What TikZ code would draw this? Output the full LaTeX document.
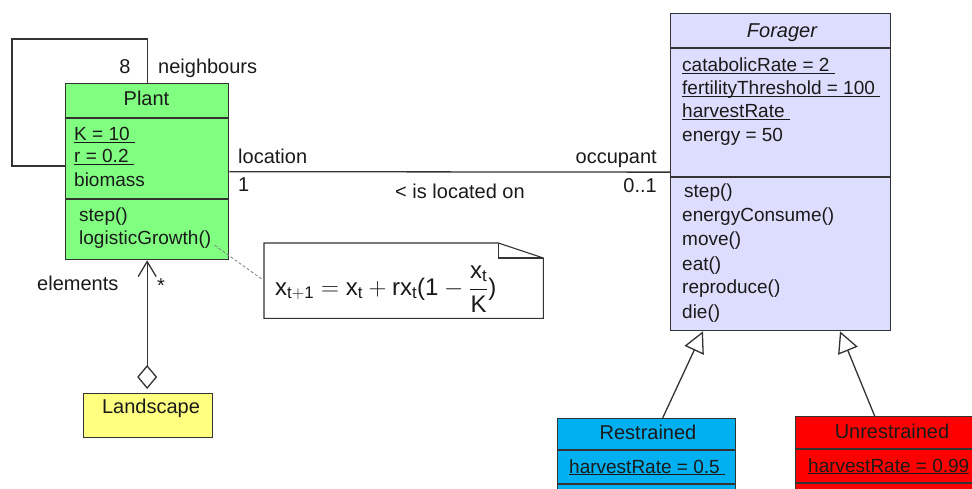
\documentclass[tikz,border=0pt]{standalone}
\usepackage{fontspec}
\setmainfont{Liberation Sans}
\usetikzlibrary{arrows.meta,calc}
\definecolor{plantgreen}{HTML}{80FF80}
\definecolor{foragerblue}{HTML}{DDDDFF}
\definecolor{restrainedblue}{HTML}{00B0F0}
\definecolor{unred}{HTML}{FF0000}
\definecolor{landyellow}{HTML}{FFFF80}
\definecolor{ink}{HTML}{1A1A1A}
\definecolor{edgec}{HTML}{333333}
\newcommand\ulattr[1]{\underline{\smash{#1}}}
\begin{document}
\begin{tikzpicture}[x=1pt,y=-1pt,
  font=\fontsize{20}{24}\selectfont, text=ink,
  classbox/.style={draw=edgec, line width=1.3pt, anchor=north west, inner sep=0pt, rectangle},
  sepline/.style={draw=edgec, line width=1.3pt},
  txt/.style={anchor=base west, inner sep=0pt},
  mem/.style={anchor=base west, inner sep=0pt, font=\fontsize{19}{23}\selectfont},
  ctxt/.style={anchor=base, inner sep=0pt},
  conn/.style={draw=edgec, line width=1.3pt},
]
\useasboundingbox (0,0) rectangle (972,489);
\clip (0,0) rectangle (972,489);

% ---------- Plant ----------
\node[classbox, fill=plantgreen, minimum width=163pt, minimum height=176pt] (plant) at (65,83) {};
\draw[sepline] (plant.west |- 0,118) -- (plant.east |- 0,118);
\draw[sepline] (plant.west |- 0,199) -- (plant.east |- 0,199);
\node[ctxt] (plantT) at (146.5,106) {Plant};
\node[mem] (plantA1) at (74,141) {\ulattr{K = 10~}};
\node[mem] (plantA2) at (74,163) {\ulattr{r = 0.2~}};
\node[mem] (plantA3) at (74,187) {biomass};
\node[mem] (plantM1) at (79,222) {step()};
\node[mem] (lg) at (79,245) {logisticGrowth()};

% ---------- Forager ----------
\node[classbox, fill=foragerblue, minimum width=220pt, minimum height=317pt] (forager) at (670,13) {};
\draw[sepline] (forager.west |- 0,48) -- (forager.east |- 0,48);
\draw[sepline] (forager.west |- 0,177) -- (forager.east |- 0,177);
\node[ctxt] (foragerT) at (782,38) {\itshape Forager};
\node[mem] (fA1) at (682,72) {\ulattr{catabolicRate = 2~}};
\node[mem] (fA2) at (682,95) {\ulattr{fertilityThreshold = 100~}};
\node[mem] (fA3) at (682,118) {\ulattr{harvestRate~}};
\node[mem] (fA4) at (682,142) {energy = 50};
\node[mem] (fM1) at (684,198) {step()};
\node[mem] (fM2) at (682,222) {energyConsume()};
\node[mem] (fM3) at (682,246) {move()};
\node[mem] (fM4) at (682,270) {eat()};
\node[mem] (fM5) at (682,294) {reproduce()};
\node[mem] (fM6) at (682,318) {die()};

% ---------- Restrained ----------
\node[classbox, fill=restrainedblue, minimum width=178pt, minimum height=100pt] (restrained) at (557,418) {};
\draw[sepline] (restrained.west |- 0,450) -- (restrained.east |- 0,450);
\draw[sepline] (restrained.west |- 0,484) -- (restrained.east |- 0,484);
\node[ctxt] (restrainedT) at (648,439) {Restrained};
\node[mem] (rA1) at (569,473) {\ulattr{harvestRate = 0.5~}};

% ---------- Unrestrained ----------
\node[classbox, fill=unred, minimum width=200pt, minimum height=100pt] (unrestrained) at (795,416) {};
\draw[sepline] (unrestrained.west |- 0,449) -- (unrestrained.east |- 0,449);
\draw[sepline] (unrestrained.west |- 0,483) -- (unrestrained.east |- 0,483);
\node[ctxt] (unrestrainedT) at (892,438) {Unrestrained};
\node[mem] (uA1) at (808,472) {\ulattr{harvestRate = 0.99}};

% ---------- Landscape ----------
\node[classbox, fill=landyellow, minimum width=129pt, minimum height=44pt] (landscape) at (83,393) {};
\node[ctxt] (landscapeT) at (151,413) {Landscape};

% ---------- Note ----------
\node[anchor=north west, minimum width=279pt, minimum height=75pt, inner sep=0pt] (note) at (264,243) {};
\draw[draw=edgec, line width=1.1pt, fill=white] (note.north west) -- ($(note.north east)+(-45,0)$) -- ($(note.north east)+(0,15)$) -- (note.south east) -- (note.south west) -- cycle;
\draw[draw=edgec, line width=1.1pt] ($(note.north east)+(-45,0)$) -- ($(note.north east)+(-45,15)$) -- ($(note.north east)+(0,15)$);
\node[anchor=base west, inner sep=0pt, font=\fontsize{24}{28}\selectfont] (formula) at (275,295)
  {$\mathrm{x}_{\mathrm{t+1}} = \mathrm{x}_{\mathrm{t}} + \mathrm{r}\mathrm{x}_{\mathrm{t}}\hbox{(1} - \displaystyle\frac{\mathrm{x}_{\mathrm{t}}}{\mathrm{K}}\hbox{)}$};
\draw[draw=gray, line width=0.8pt, densely dashed] ($(lg.east)+(3,5)$) -- (note.west);

% ---------- Connectors ----------
\coordinate (loopTL) at (12,39);
\coordinate (loopIn) at (65,166);
\draw[conn] (plant.north) |- (loopTL) |- (loopIn);
\node[ctxt] (nb8) at (125,74) {8};
\node[txt] (nbL) at (158,74) {neighbours};

\draw[conn] (plant.east) -- (forager.west);
\node[txt] (locL) at (238,164) {location};
\node[txt] (loc1) at (238,192) {1};
\node[anchor=base east, inner sep=0pt] (occL) at (657,164) {occupant};
\node[anchor=base east, inner sep=0pt] (occM) at (657,193) {0..1};
\node[ctxt] (assocL) at (460,199) {< is located on};

\draw[conn, {Diamond[open,length=24pt,width=20pt]}-{Straight Barb[length=15pt,width=18pt]}, shorten <=4pt] (plant.south |- landscape.north) -- (plant.south);
\node[txt] (elemL) at (37,290) {elements};
\node[ctxt] (elemM) at (161,292) {*};

\draw[conn, -{Triangle[open,length=21pt,width=21pt]}] ($(restrained.north)+(16,0)$) -- ($(forager.south west)+(33,0)$);
\draw[conn, -{Triangle[open,length=21pt,width=21pt]}] ($(unrestrained.north)+(-21,0)$) -- ($(forager.south west)+(170,0)$);
\end{tikzpicture}
\end{document}
